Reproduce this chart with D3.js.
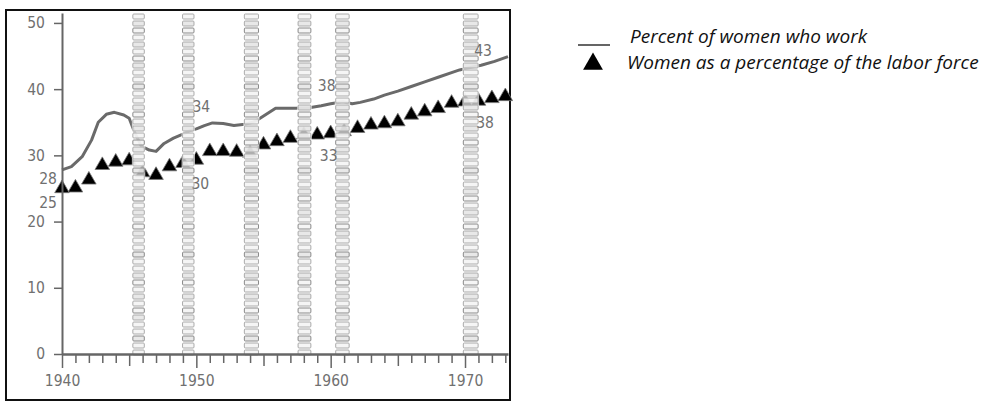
<!DOCTYPE html>
<html>
<head>
<meta charset="utf-8">
<script src="https://cdn.jsdelivr.net/npm/d3@7"></script>
<style>
  body { margin: 0; background: #fff; }
  .lbl { font-family: "DejaVu Sans Condensed", "DejaVu Sans", sans-serif; font-size: 15.5px; fill: #707070; }
  .legend { font-family: "Open Sans", sans-serif; font-style: italic; font-size: 19px; fill: #111; }
</style>
</head>
<body>
<div id="chart"></div>
<script>
// Percent of women who work (participation rate)
var lineYears  = [1940, 1940.7, 1941.5, 1942.2, 1942.7, 1943.3, 1943.9, 1944.6, 1945, 1945.4, 1945.9, 1946.5, 1947,
                  1947.6, 1948.3, 1949, 1949.5, 1950, 1950.6, 1951.2, 1952, 1952.8, 1953.6, 1954.2, 1954.6, 1955.9,
                  1957.4, 1958.4, 1959.3, 1960, 1960.9, 1961.6, 1962.2, 1963.2, 1964, 1965, 1966, 1967, 1968,
                  1969, 1969.6, 1970, 1971.2, 1972.2, 1973.2];
var lineValues = [27.8, 28.3, 29.8, 32.3, 35.0, 36.2, 36.5, 36.1, 35.6, 33.5, 31.4, 30.8, 30.6,
                  31.8, 32.6, 33.2, 33.7, 34.0, 34.5, 34.9, 34.8, 34.5, 34.7, 35.0, 35.4, 37.1,
                  37.1, 37.2, 37.5, 37.8, 38.1, 37.8, 38.0, 38.5, 39.1, 39.7, 40.4, 41.1, 41.8,
                  42.5, 42.9, 43.1, 43.6, 44.2, 44.9];

// Women as a percentage of the labor force, one triangle per year
var triYears  = d3.range(1940, 1974);
var triValues = [25.0, 25.1, 26.3, 28.5, 29.0, 29.2, 27.4, 27.0, 28.3, 28.8,
                 29.3, 30.6, 30.6, 30.5, 30.3, 31.6, 32.1, 32.6, 33.1, 33.1,
                 33.3, 33.6, 34.1, 34.6, 34.8, 35.1, 36.1, 36.6, 37.1, 37.9,
                 38.1, 38.2, 38.6, 38.9];

// recession bands (start, end)
var bandStarts = [1945.2, 1948.9, 1953.5, 1957.5, 1960.3, 1969.8];
var bandEnds   = [1946.2, 1949.9, 1954.7, 1958.6, 1961.45, 1971.05];

var yTicks = [0, 10, 20, 30, 40, 50];
var xTicks = d3.range(1940, 1974);

// value labels on the chart
var noteYears  = [1940, 1940, 1950, 1950, 1960, 1960, 1970, 1970];
var noteSeries = ["line", "tri", "line", "tri", "line", "tri", "line", "tri"];
var noteTexts  = ["28", "25", "34", "30", "38", "33", "43", "38"];
var noteDx     = [-14, -14, 5, 4, -4, -2, 18, 20];
var noteDy     = [8, 14, -22, 23, -18, 22, -18, 21];

var legendTexts = ["Percent of women who work", "Women as a percentage of the labor force"];

var width = 991, height = 402;

var svg = d3.select("#chart").append("svg")
  .attr("width", width)
  .attr("height", height);

var x = d3.scaleLinear().domain([1940, 1973.2]).range([62, 508]);
var y = d3.scaleLinear().domain([0, 51.5]).range([354, 13]);

// frame
svg.append("rect")
  .attr("x", 6).attr("y", 10)
  .attr("width", 504).attr("height", 390)
  .attr("fill", "none")
  .attr("stroke", "#111")
  .attr("stroke-width", 2);

// series line
var lineData = lineYears.map(function(yr, i) { return [yr, lineValues[i]]; });
svg.append("path")
  .datum(lineData)
  .attr("fill", "none")
  .attr("stroke", "#6a6a6a")
  .attr("stroke-width", 3)
  .attr("stroke-linejoin", "round")
  .attr("d", d3.line().x(d => x(d[0])).y(d => y(d[1])));

// triangles
var tri = d3.symbol().type(d3.symbolTriangle).size(92);
svg.append("g").selectAll("path")
  .data(triYears)
  .enter()
  .append("path")
  .attr("transform", (d, i) => `translate(${x(d)},${y(triValues[i])})`)
  .attr("d", tri)
  .attr("fill", "#000")
  .attr("stroke", "#777")
  .attr("stroke-width", 0.8);

// hatched recession bands, drawn over the marks
var step = 7;
var bandG = svg.append("g");
bandStarts.forEach(function(s, i) {
  var x0 = x(s), x1 = x(bandEnds[i]);
  var rows = d3.range(y.range()[1], y(0) - 2, step);
  bandG.append("rect")
    .attr("x", x0).attr("y", y.range()[1])
    .attr("width", x1 - x0).attr("height", y(0) - y.range()[1])
    .attr("fill", "#fff").attr("opacity", 0.7);
  bandG.selectAll(null)
    .data(rows)
    .enter()
    .append("rect")
    .attr("x", x0 + 1)
    .attr("y", d => d + 1)
    .attr("width", x1 - x0 - 2)
    .attr("height", step - 2)
    .attr("rx", 1)
    .attr("fill", (d, j) => j % 3 === 1 ? "#e2e2e2" : "#f2f2f2")
    .attr("fill-opacity", 0.8)
    .attr("stroke", (d, j) => j % 4 === 2 ? "#888" : "#aaa")
    .attr("stroke-width", 1);
});

// y axis
var yAxis = d3.axisLeft(y).tickValues(yTicks).tickSize(8).tickSizeOuter(0).tickPadding(9);
var gy = svg.append("g")
  .attr("transform", `translate(${x(1940)},0)`)
  .call(yAxis);
gy.select(".domain").attr("stroke", "#666").attr("stroke-width", 2);
gy.selectAll(".tick line").attr("stroke", "#666").attr("stroke-width", 1.5);
gy.selectAll(".tick text").attr("class", "lbl").attr("fill", null);

// x axis
var xAxis = d3.axisBottom(x).tickValues(xTicks).tickSizeOuter(0)
  .tickFormat(d => d % 10 === 0 ? d : "");
var gx = svg.append("g")
  .attr("transform", `translate(0,${y(0)})`)
  .call(xAxis);
gx.select(".domain").attr("stroke", "#666").attr("stroke-width", 2.5);
gx.selectAll(".tick line")
  .attr("stroke", "#666")
  .attr("stroke-width", 1.5)
  .attr("y2", d => d % 10 === 0 ? 14 : (d % 5 === 0 ? 12 : 9));
gx.selectAll(".tick text").attr("class", "lbl").attr("fill", null).attr("y", 21);

// value labels
svg.append("g").selectAll("text")
  .data(noteTexts)
  .enter()
  .append("text")
  .attr("class", "lbl")
  .attr("text-anchor", "middle")
  .attr("dy", "0.36em")
  .attr("x", (d, i) => x(noteYears[i]) + noteDx[i])
  .attr("y", function(d, i) {
    var v = noteSeries[i] === "line"
      ? lineValues[lineYears.indexOf(noteYears[i])]
      : triValues[triYears.indexOf(noteYears[i])];
    return y(v) + noteDy[i];
  })
  .text(d => d);

// legend
var lg = svg.append("g");
lg.append("line")
  .attr("x1", 578).attr("x2", 610)
  .attr("y1", 45).attr("y2", 45)
  .attr("stroke", "#111").attr("stroke-width", 1.3);
lg.append("path")
  .attr("transform", "translate(593,64)")
  .attr("d", d3.symbol().type(d3.symbolTriangle).size(170))
  .attr("fill", "#000");
lg.append("text").attr("class", "legend").attr("x", 630).attr("y", 43).text(legendTexts[0]);
lg.append("text").attr("class", "legend").attr("x", 627).attr("y", 69).text(legendTexts[1]);
</script>
</body>
</html>
